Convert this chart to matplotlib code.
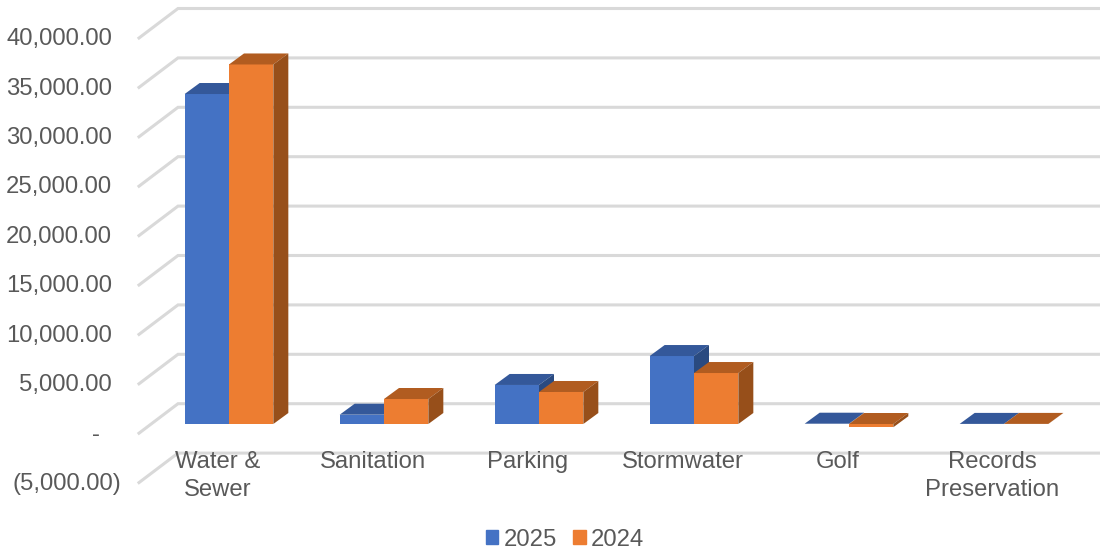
import matplotlib
matplotlib.use("Agg")
import matplotlib.pyplot as plt
from matplotlib.patches import Polygon
from matplotlib.lines import Line2D
from matplotlib.transforms import IdentityTransform, Affine2D

plt.rcParams['font.family'] = ['Liberation Sans', 'DejaVu Sans']

categories = ["Water &\nSewer", "Sanitation", "Parking", "Stormwater", "Golf", "Records\nPreservation"]
values_2025 = [33400, 940, 3950, 6880, 30, 10]
values_2024 = [36390, 2530, 3240, 5160, -330, 10]
ticks = [-5000, 0, 5000, 10000, 15000, 20000, 25000, 30000, 35000, 40000]
tick_labels = ["(5,000.00)", "-", "5,000.00", "10,000.00", "15,000.00", "20,000.00",
               "25,000.00", "30,000.00", "35,000.00", "40,000.00"]

W, H = 1100, 549
TEXT = "#595959"
GRID = "#D9D9D9"
# pixel shifts of the fake 3d box, relative to the plane of the bar fronts
BAR_DX, BAR_DY = 15, 11
WALL_DX, WALL_DY = 26.5, 20.3
FRONT_DX, FRONT_DY = -12.5, -9.2
BAR_W = 0.286

fig = plt.figure(figsize=(W / 100, H / 100), dpi=100)
ax = fig.add_axes([151.5 / W, (H - 473.4) / H, 930 / W, 444.6 / H])
ax.set_xlim(-0.5, 5.5)
ax.set_ylim(-5000, 40000)
for s in ax.spines.values():
    s.set_visible(False)
ax.patch.set_visible(False)
px = IdentityTransform()

# walls: back gridline plus the diagonal on the left side
for t in ticks:
    x0, y0 = ax.transData.transform((-0.5, t))
    x1, y1 = ax.transData.transform((5.5, t))
    fig.add_artist(Line2D([x0 + FRONT_DX, x0 + WALL_DX, x1 + WALL_DX],
                          [y0 + FRONT_DY, y0 + WALL_DY, y1 + WALL_DY],
                          transform=px, color=GRID, lw=2.2, zorder=0,
                          solid_joinstyle="miter"))


def bar3d(x, v, front, top, side, z):
    ax.bar(x, v, BAR_W, color=front, zorder=z)
    hi = max(v, 0)
    lo = min(v, 0)
    xa, ya = ax.transData.transform((x - BAR_W / 2, hi))
    xb, yl = ax.transData.transform((x + BAR_W / 2, lo))
    ax.add_patch(Polygon([(xa, ya), (xb, ya), (xb + BAR_DX, ya + BAR_DY), (xa + BAR_DX, ya + BAR_DY)],
                         transform=px, facecolor=top, edgecolor="none", zorder=z))
    ax.add_patch(Polygon([(xb, yl), (xb + BAR_DX, yl + BAR_DY), (xb + BAR_DX, ya + BAR_DY), (xb, ya)],
                         transform=px, facecolor=side, edgecolor="none", zorder=z))


for i in range(len(categories)):
    bar3d(i - BAR_W / 2, values_2025[i], "#4472C4", "#34589A", "#2A4A80", 3 + i)
    bar3d(i + BAR_W / 2, values_2024[i], "#ED7D31", "#B15C20", "#974F1A", 3.5 + i)

ax.set_yticks(ticks, tick_labels)
ax.set_xticks(range(len(categories)), categories, linespacing=1.33)
ax.tick_params(length=0, labelsize=17.2, labelcolor=TEXT)
ax.tick_params(axis="y", pad=39.5 / 1.389)
for lab in ax.get_yticklabels():
    # accounting format keeps room for the closing bracket, dash sits further in
    dx = 0
    if lab.get_text().startswith("("):
        dx = 9
    elif lab.get_text() == "-":
        dx = -12
    lab.set_transform(lab.get_transform() + Affine2D().translate(dx, -8))
for lab in ax.get_xticklabels():
    lab.set_transform(lab.get_transform() + Affine2D().translate(-11.5, 27))

handles = [plt.Rectangle((0, 0), 1, 1, color="#4472C4"), plt.Rectangle((0, 0), 1, 1, color="#ED7D31")]
fig.legend(handles, ["2025", "2024"], loc="center", bbox_to_anchor=(565 / W, (H - 539.5) / H),
           ncol=2, frameon=False, fontsize=17.2, labelcolor=TEXT, handlelength=0.52, handleheight=0.52,
           handletextpad=0.22, columnspacing=0.68, borderpad=0, borderaxespad=0)

fig.savefig("out.png")
